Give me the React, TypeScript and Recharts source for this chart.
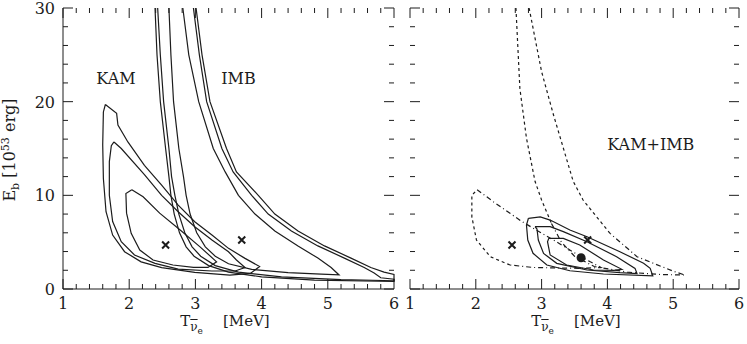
import React from "react";
import { ComposedChart, Line, Scatter, XAxis, YAxis, ReferenceDot } from "recharts";

const FONT = "'DejaVu Serif', 'Liberation Serif', serif";
const INK = "#1c1c1c";

// axis ticks (minor every 0.2 in T, every 2 in E)
const xTicks = [1, 1.2, 1.4, 1.6, 1.8, 2, 2.2, 2.4, 2.6, 2.8, 3, 3.2, 3.4, 3.6, 3.8, 4, 4.2, 4.4, 4.6, 4.8, 5, 5.2, 5.4, 5.6, 5.8, 6];
const yTicks = [0, 2, 4, 6, 8, 10, 12, 14, 16, 18, 20, 22, 24, 26, 28, 30];

// left panel: KAM contours (closed)
const kamInner = [[2.04, 10.6], [2.21, 9.85], [2.46, 8.1], [2.77, 6.3], [3.07, 4.5], [3.32, 2.9], [3.19, 2.3], [2.97, 2.3], [2.66, 2.56], [2.36, 3.1], [2.16, 4.16], [2.03, 5.94], [1.96, 8.1], [1.95, 10.2], [2.04, 10.6]];
const kamMiddle = [[1.77, 15.7], [1.88, 15.0], [2.23, 12.2], [2.49, 10.0], [2.74, 8.25], [2.99, 6.65], [3.25, 5.23], [3.5, 3.98], [3.62, 3.1], [3.75, 2.3], [3.6, 1.92], [3.25, 1.92], [2.74, 2.13], [2.39, 2.74], [2.08, 3.63], [1.88, 5.05], [1.75, 7.2], [1.7, 10.0], [1.7, 13.6], [1.73, 15.3], [1.77, 15.7]];
const kamOuter = [[1.64, 19.7], [1.81, 18.75], [1.83, 17.5], [1.98, 15.7], [2.23, 13.2], [2.49, 11.1], [2.74, 8.96], [2.99, 7.18], [3.25, 5.76], [3.5, 4.34], [3.75, 3.27], [3.97, 2.4], [3.83, 1.67], [3.52, 1.49], [2.99, 1.78], [2.49, 2.28], [2.18, 2.9], [1.93, 3.98], [1.75, 5.76], [1.65, 8.25], [1.61, 11.8], [1.6, 15.4], [1.61, 18.9], [1.64, 19.7]];

// left panel: IMB contours (open at top / right edge)
const imbInner = [[2.6, 30], [2.63, 25], [2.67, 20], [2.75, 15], [2.82, 12], [2.86, 10], [2.92, 8], [3.02, 6], [3.15, 4.5], [3.3, 3.5], [3.5, 2.7], [3.85, 2.1], [4.4, 1.75], [4.9, 1.58], [5.17, 1.5], [5.05, 2.3], [4.85, 3.3], [4.55, 4.6], [4.2, 6.2], [3.9, 8], [3.65, 10], [3.45, 12.5], [3.27, 15], [3.05, 20], [2.9, 25], [2.81, 30]];
const imbMiddle = [[2.43, 30], [2.47, 25], [2.52, 20], [2.6, 15], [2.64, 12], [2.69, 10], [2.75, 8], [2.84, 6], [2.95, 4.5], [3.08, 3.5], [3.3, 2.5], [3.65, 1.8], [4.3, 1.3], [5.2, 1.0], [6, 0.88], [6, 1.05], [5.8, 1.2], [5.7, 1.7], [5.55, 2.3], [5.25, 3.3], [4.85, 4.6], [4.45, 6.2], [4.1, 8], [3.85, 10], [3.57, 12.5], [3.4, 15], [3.17, 20], [3.06, 25], [2.97, 30]];
const imbOuter = [[2.39, 30], [2.42, 25], [2.47, 20], [2.55, 15], [2.6, 12], [2.63, 10], [2.68, 8], [2.76, 6], [2.86, 4.5], [2.98, 3.5], [3.2, 2.5], [3.5, 1.8], [4.0, 1.3], [4.8, 0.95], [6, 0.8], [6, 1.55], [5.85, 1.8], [5.65, 2.3], [5.35, 3.3], [4.95, 4.6], [4.55, 6.2], [4.2, 8], [3.95, 10], [3.62, 12.5], [3.47, 15], [3.22, 20], [3.1, 25], [3.01, 30]];

const kamBest = [[2.55, 4.7]];
const imbBest = [[3.7, 5.23]];

// right panel: single KAM and IMB contours (dashed) + combined fit (solid)
const kamRight = [[2.52, 2.56], [2.22, 3.45], [2.01, 5.23], [1.94, 7.7], [1.94, 10.0], [2.02, 10.6], [2.27, 9.3], [2.7, 7.2], [3.18, 5.23], [3.43, 4.16], [3.74, 2.9], [3.9, 2.3], [3.6, 2.2], [3.2, 2.25], [2.87, 2.3], [2.52, 2.56]];
const imbRight = [[2.61, 30], [2.67, 21.4], [2.77, 16.1], [2.9, 11.5], [3.0, 9.5], [3.15, 7.0], [3.3, 5.0], [3.5, 3.5], [3.8, 2.4], [4.3, 1.8], [4.8, 1.55], [5.18, 1.49], [5.0, 1.9], [4.45, 3.45], [4.04, 5.94], [3.63, 9.5], [3.48, 11.5], [3.18, 18.6], [3.0, 23.2], [2.81, 30]];
const combOuter = [[2.8, 7.55], [2.98, 7.7], [3.13, 7.36], [3.43, 6.3], [3.69, 5.58], [4.19, 3.98], [4.55, 2.74], [4.65, 2.2], [4.69, 1.4], [3.94, 1.6], [3.43, 1.95], [3.08, 2.56], [2.87, 3.81], [2.79, 5.23], [2.77, 6.83], [2.8, 7.55]];
const combMiddle = [[2.9, 6.65], [3.13, 6.65], [3.33, 6.12], [3.69, 5.05], [4.14, 3.45], [4.42, 2.2], [4.45, 1.65], [4.19, 1.74], [3.69, 2.03], [3.23, 2.74], [3.03, 3.8], [2.95, 5.23], [2.93, 6.4], [2.9, 6.65]];
const combInner = [[3.11, 5.41], [3.33, 5.4], [3.58, 4.7], [3.94, 3.1], [4.22, 2.1], [4.1, 1.98], [3.79, 2.03], [3.38, 2.56], [3.13, 3.63], [3.09, 5.05], [3.11, 5.41]];
const combBest = [[3.6, 3.34]];

const pts = (a: number[][]) => a.map(([x, y]) => ({ x, y }));
const major = (v: number, step: number) => Math.abs(v / step - Math.round(v / step)) < 1e-6;

// tick positions on the four frame edges
const bottomMarks = xTicks.map((x) => ({ x, y: 0 }));
const topMarks = xTicks.map((x) => ({ x, y: 30 }));
const leftMarks = yTicks.map((y) => ({ x: 1, y }));
const rightMarks = yTicks.map((y) => ({ x: 6, y }));

const txt = { fontFamily: FONT, fontSize: 16, fill: INK };

const bottomLabel = (labels: boolean) => (p: any) =>
  labels && major(p.payload.value, 1) ? (
    <text x={p.x} y={Number(p.y) + 20} textAnchor="middle" {...txt}>
      {Math.round(p.payload.value)}
    </text>
  ) : (
    <g />
  );
const leftLabel = (labels: boolean) => (p: any) =>
  labels && major(p.payload.value, 10) ? (
    <text x={Number(p.x) - 8} y={Number(p.y) + 6} textAnchor="end" {...txt}>
      {p.payload.value}
    </text>
  ) : (
    <g />
  );

// inward tick marks drawn as scatter shapes
const tickShape = (dx: number, dy: number, isMajor: (d: any) => boolean) => (p: any) => {
  const len = isMajor(p.payload) ? 10 : 5;
  return <path d={`M${p.cx},${p.cy}l${dx * len},${dy * len}`} stroke={INK} strokeWidth={1} fill="none" />;
};
const vTick = (d: any) => major(d.x, 1);
const hTick = (d: any) => major(d.y, 10);

const Cross = (p: any) => (
  <path d={`M${p.cx - 3.5},${p.cy - 3.5}L${p.cx + 3.5},${p.cy + 3.5}M${p.cx - 3.5},${p.cy + 3.5}L${p.cx + 3.5},${p.cy - 3.5}`} stroke={INK} strokeWidth={2} />
);
const Dot = (p: any) => <circle cx={p.cx} cy={p.cy} r={4.5} fill={INK} />;

function Contour({ data, dash }: { data: number[][]; dash?: string }) {
  return (
    <Line
      data={pts(data)}
      dataKey="y"
      xAxisId="b"
      yAxisId="l"
      type="linear"
      stroke={INK}
      strokeWidth={1.2}
      strokeDasharray={dash}
      dot={false}
      activeDot={false}
      isAnimationActive={false}
    />
  );
}

function Frame({ labels }: { labels: boolean }) {
  return [
    <XAxis key="b" xAxisId="b" type="number" dataKey="x" domain={[1, 6]} ticks={xTicks} interval={0} height={30} tickSize={0} tickMargin={0} tickLine={false} axisLine={{ stroke: INK }} tick={bottomLabel(true)} />,
    <XAxis key="t" xAxisId="t" orientation="top" type="number" dataKey="x" domain={[1, 6]} ticks={xTicks} height={0} tickLine={false} axisLine={{ stroke: INK }} tick={false} />,
    <YAxis key="l" yAxisId="l" type="number" domain={[0, 30]} ticks={yTicks} interval={0} width={labels ? 50 : 0} tickSize={0} tickMargin={0} tickLine={false} axisLine={{ stroke: INK }} tick={leftLabel(labels)} />,
    <YAxis key="r" yAxisId="r" orientation="right" type="number" domain={[0, 30]} ticks={yTicks} width={0} tickLine={false} axisLine={{ stroke: INK }} tick={false} />,
    <Scatter key="sb" data={bottomMarks} dataKey="y" xAxisId="b" yAxisId="l" shape={tickShape(0, -1, vTick)} isAnimationActive={false} />,
    <Scatter key="st" data={topMarks} dataKey="y" xAxisId="b" yAxisId="l" shape={tickShape(0, 1, vTick)} isAnimationActive={false} />,
    <Scatter key="sl" data={leftMarks} dataKey="y" xAxisId="b" yAxisId="l" shape={tickShape(1, 0, hTick)} isAnimationActive={false} />,
    <Scatter key="sr" data={rightMarks} dataKey="y" xAxisId="b" yAxisId="l" shape={tickShape(-1, 0, hTick)} isAnimationActive={false} />,
  ];
}

const xLabel = (
  <span>
    T
    <span style={{ position: "relative", top: 5, fontSize: 12 }}>
      <span style={{ textDecoration: "overline" }}>ν</span>
      <span style={{ position: "relative", top: 3, fontSize: 9 }}>e</span>
    </span>
    <span style={{ display: "inline-block", width: 20 }} />
    [MeV]
  </span>
);

export default function App() {
  return (
    <div style={{ position: "absolute", left: 0, top: 0, width: 747, height: 344, background: "#fff", fontFamily: FONT, color: INK }}>
      <div style={{ position: "absolute", left: 0, top: 0 }}>
        <ComposedChart width={400} height={344} margin={{ top: 8, right: 6, bottom: 25, left: 13 }}>
          {Frame({ labels: true })}
          <Contour data={kamOuter} />
          <Contour data={kamMiddle} />
          <Contour data={kamInner} />
          <Contour data={imbOuter} />
          <Contour data={imbMiddle} />
          <Contour data={imbInner} />
          <Scatter data={pts(kamBest)} dataKey="y" xAxisId="b" yAxisId="l" shape={Cross} isAnimationActive={false} />
          <Scatter data={pts(imbBest)} dataKey="y" xAxisId="b" yAxisId="l" shape={Cross} isAnimationActive={false} />
          <ReferenceDot x={1.8} y={22.5} r={0} xAxisId="b" yAxisId="l" stroke="none" fill="none" label={{ value: "KAM", position: "center", ...txt }} />
          <ReferenceDot x={3.65} y={22.5} r={0} xAxisId="b" yAxisId="l" stroke="none" fill="none" label={{ value: "IMB", position: "center", ...txt }} />
        </ComposedChart>
      </div>
      <div style={{ position: "absolute", left: 400, top: 0 }}>
        <ComposedChart width={347} height={344} margin={{ top: 8, right: 8, bottom: 25, left: 10 }}>
          {Frame({ labels: false })}
          <Contour data={kamRight.slice(0, 6)} dash="3 3" />
          <Contour data={kamRight.slice(5)} dash="5 3 1 3" />
          <Contour data={imbRight.slice(0, 6)} dash="3 3" />
          <Contour data={imbRight.slice(5, 15)} dash="5 3 1 3" />
          <Contour data={imbRight.slice(14)} dash="3 3" />
          <Contour data={combOuter} />
          <Contour data={combMiddle} />
          <Contour data={combInner} />
          <Scatter data={pts(kamBest)} dataKey="y" xAxisId="b" yAxisId="l" shape={Cross} isAnimationActive={false} />
          <Scatter data={pts(imbBest)} dataKey="y" xAxisId="b" yAxisId="l" shape={Cross} isAnimationActive={false} />
          <Scatter data={pts(combBest)} dataKey="y" xAxisId="b" yAxisId="l" shape={Dot} isAnimationActive={false} />
          <ReferenceDot x={4.66} y={15.4} r={0} xAxisId="b" yAxisId="l" stroke="none" fill="none" label={{ value: "KAM+IMB", position: "center", ...txt }} />
        </ComposedChart>
      </div>
      <div style={{ position: "absolute", left: 165, top: 312, width: 120, textAlign: "center", fontSize: 15, lineHeight: "18px", whiteSpace: "pre" }}>{xLabel}</div>
      <div style={{ position: "absolute", left: 516, top: 312, width: 120, textAlign: "center", fontSize: 15, lineHeight: "18px", whiteSpace: "pre" }}>{xLabel}</div>
      <div
        style={{ position: "absolute", left: 11, top: 149, width: 150, marginLeft: -75, marginTop: -9, textAlign: "center", fontSize: 16, lineHeight: "18px", transform: "rotate(-90deg)", whiteSpace: "pre" }}
      >
        E<span style={{ position: "relative", top: 4, fontSize: 11 }}>b</span>
        {" [10"}
        <span style={{ position: "relative", top: -6, fontSize: 11 }}>53</span>
        {" erg]"}
      </div>
    </div>
  );
}
